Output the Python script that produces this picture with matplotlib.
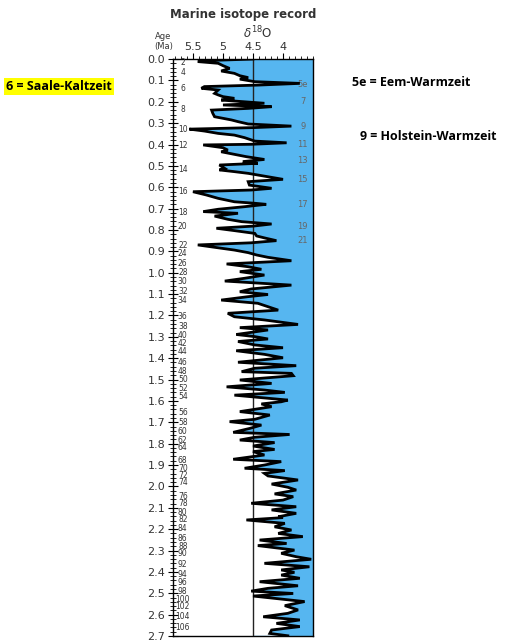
import matplotlib.pyplot as plt
import numpy as np
from matplotlib.ticker import MultipleLocator

# age (Ma) and delta18O values
age = [0.000, 0.006, 0.012, 0.020, 0.031, 0.044, 0.056, 0.067, 0.078, 0.087, 0.094, 0.106, 0.114, 0.122,
       0.129, 0.137, 0.145, 0.161, 0.168, 0.176, 0.184, 0.192, 0.207, 0.215, 0.223, 0.231, 0.239, 0.254,
       0.270, 0.285, 0.293, 0.304, 0.314, 0.321, 0.328, 0.337, 0.348, 0.356, 0.368, 0.384, 0.392, 0.399,
       0.402, 0.415, 0.426, 0.434, 0.446, 0.457, 0.470, 0.480, 0.488, 0.496, 0.512, 0.519,
       0.527, 0.535, 0.551, 0.563, 0.574, 0.590, 0.605, 0.613, 0.621, 0.636, 0.652, 0.668, 0.675, 0.680,
       0.691, 0.703, 0.714, 0.722, 0.735, 0.750, 0.761, 0.772, 0.782, 0.792, 0.803, 0.816, 0.828, 0.839,
       0.850, 0.860, 0.870, 0.881, 0.894, 0.906, 0.917, 0.928, 0.944, 0.959, 0.972, 0.984, 0.995, 1.011,
       1.026, 1.039, 1.058,
       1.076, 1.089, 1.102, 1.112, 1.128, 1.143, 1.159, 1.175, 1.190, 1.206, 1.221, 1.242, 1.257, 1.268,
       1.289, 1.299, 1.310, 1.322, 1.338, 1.351, 1.365, 1.382, 1.398, 1.419, 1.435, 1.447, 1.463, 1.471,
       1.482, 1.502, 1.518, 1.534, 1.549, 1.560, 1.573, 1.596,
       1.604, 1.614, 1.627, 1.650, 1.666, 1.686, 1.697, 1.713, 1.729, 1.747, 1.757, 1.770, 1.783, 1.795,
       1.811, 1.827, 1.837, 1.853, 1.873, 1.884, 1.900, 1.915, 1.926, 1.939, 1.951, 1.970, 1.989, 2.004,
       2.017, 2.035, 2.048, 2.064, 2.079, 2.095, 2.110, 2.126, 2.142,
       2.146, 2.157, 2.173, 2.189, 2.204, 2.220, 2.235, 2.251, 2.267, 2.277, 2.298, 2.313, 2.329, 2.341,
       2.360, 2.376, 2.391, 2.402, 2.415, 2.430, 2.446, 2.465, 2.477, 2.490, 2.501, 2.513, 2.527, 2.539,
       2.558, 2.578, 2.594, 2.610, 2.625, 2.641, 2.656, 2.672, 2.688, 2.699]
d18o = [4.50, 5.14, 5.42, 5.08, 5.00, 4.89, 5.03, 4.81, 4.72, 4.58, 4.72, 4.47, 3.72, 4.42,
        5.31, 5.36, 5.08, 5.14, 5.08, 5.00, 4.81, 5.03, 4.31, 5.00, 4.19, 4.58, 5.19, 5.17,
        5.14, 4.86, 4.75, 4.58, 3.86, 4.50, 5.56, 5.31, 5.08, 4.81, 4.64, 4.47, 3.94, 4.53,
        5.33, 5.00, 4.92, 5.03, 4.81, 4.61, 4.31, 4.67, 4.42, 5.06, 4.97, 5.06,
        4.81, 4.58, 4.25, 4.00, 4.58, 4.56, 4.19, 4.53, 5.50, 5.28, 5.08, 4.81, 4.47, 4.28,
        4.64, 5.08, 5.33, 4.75, 5.14, 4.92, 4.69, 4.19, 4.50, 5.11, 4.81, 4.47, 4.44, 4.28,
        4.11, 4.53, 5.42, 5.14, 4.81, 4.58, 4.44, 4.25, 3.86, 4.94, 4.58, 4.36, 4.72, 4.31,
        4.64, 4.97, 3.86,
        4.53, 4.72, 4.25, 4.58, 5.03, 4.42, 4.25, 4.08, 4.92, 4.81, 4.31, 3.75, 4.72, 4.25,
        4.78, 4.47, 4.25, 4.75, 4.47, 4.00, 4.78, 4.31, 4.00, 4.75, 3.78, 4.47, 4.69, 3.86,
        3.83, 4.72, 4.19, 4.94, 4.31, 3.97, 4.81, 3.92,
        4.03, 4.36, 4.19, 4.72, 4.22, 4.47, 4.89, 4.36, 4.56, 4.83, 3.89, 4.47, 4.72, 4.14,
        4.50, 4.14, 4.50, 4.31, 4.83, 4.03, 4.31, 4.64, 3.97, 4.31, 4.25, 3.75, 4.19, 3.92,
        3.78, 4.14, 3.83, 4.00, 4.53, 3.78, 4.19, 3.78, 4.08,
        4.00, 4.61, 3.97, 4.14, 3.86, 4.08, 3.67, 4.39, 3.94, 4.42, 3.81, 4.03, 3.78, 3.53,
        4.31, 3.56, 4.03, 3.81, 4.03, 3.72, 4.39, 3.75, 4.25, 4.53, 3.83, 4.50, 4.03, 3.64,
        3.97, 3.75, 3.92, 4.33, 3.72, 4.11, 3.72, 4.19, 4.22, 3.92]

# marine isotope stage labels
even_stages = ['2', '4', '6', '8', '10', '12', '14', '16', '18', '20', '22', '24', '26', '28', '30',
               '32', '34', '36', '38', '40', '42', '44', '46', '48', '50', '52', '54', '56', '58', '60',
               '62', '64', '68', '70', '72', '74', '76', '78', '80', '82', '84', '86', '88', '90', '92',
               '94', '96', '98', '100', '102', '104', '106']
even_ages = [0.014, 0.061, 0.136, 0.237, 0.332, 0.403, 0.515, 0.622, 0.716, 0.786, 0.871, 0.908,
             0.959, 0.997, 1.039, 1.090, 1.132, 1.207, 1.254, 1.296, 1.329, 1.371, 1.418, 1.460,
             1.502, 1.540, 1.577, 1.652, 1.703, 1.745, 1.783, 1.820, 1.881, 1.914, 1.951, 1.984,
             2.045, 2.082, 2.120, 2.157, 2.195, 2.242, 2.279, 2.312, 2.364, 2.410, 2.448, 2.490,
             2.527, 2.560, 2.611, 2.658]
odd_stages = ['5e', '7', '9', '11', '13', '15', '17', '19', '21']
odd_ages = [0.117, 0.201, 0.314, 0.398, 0.473, 0.562, 0.679, 0.782, 0.847]

ref_value = 4.5
blue = '#56B6F0'
text_gray = '#333333'

fig = plt.figure(figsize=(5.07, 6.43), dpi=100)
ax = fig.add_axes([0.3412, 0.0109, 0.2762, 0.8973])

age_a = np.array(age)
d_a = np.array(d18o)

# right side: blue from the line to the right edge, white between line and warm excursions
ax.fill_betweenx([0, 2.7], ref_value, 3.5, color=blue, lw=0)
ax.fill_betweenx(age_a, d_a, ref_value, where=d_a < ref_value, interpolate=True, color='white', lw=0)
# left side: glacial excursions in blue (upper part of the record)
ax.fill_betweenx(age_a, d_a, ref_value, where=(d_a > ref_value) & (age_a < 1.78), interpolate=True,
                 color=blue, lw=0)

ax.axvline(ref_value, color='#222222', lw=1.0, zorder=3)
ax.plot(d18o, age, color='black', lw=2.0, zorder=4, solid_joinstyle='miter')

ax.set_xlim(5.833, 3.5)
ax.set_ylim(2.7, 0.0)

ax.xaxis.tick_top()
ax.set_xticks([5.5, 5.0, 4.5, 4.0])
ax.set_xticklabels(['5.5', '5', '4.5', '4'])
ax.xaxis.set_minor_locator(MultipleLocator(0.1))
ax.yaxis.set_major_locator(MultipleLocator(0.1))
ax.yaxis.set_minor_locator(MultipleLocator(0.02))
ax.set_yticklabels([f'{v:.1f}' for v in ax.get_yticks()])
ax.tick_params(axis='x', which='major', direction='out', length=4, labelsize=8, labelcolor=text_gray, pad=1)
ax.tick_params(axis='x', which='minor', direction='out', length=2)
ax.tick_params(axis='y', which='major', direction='inout', length=7, labelsize=8, labelcolor=text_gray, pad=2)
ax.tick_params(axis='y', which='minor', direction='inout', length=4)
for s in ax.spines.values():
    s.set_linewidth(1.0)

for lbl, a in zip(even_stages, even_ages):
    ax.text(5.67, a, lbl, ha='center', va='center', fontsize=5.5, color=text_gray)
for lbl, a in zip(odd_stages, odd_ages):
    ax.text(3.67, a, lbl, ha='center', va='center', fontsize=6, color='#666666')

fig.text(0.479, 0.978, 'Marine isotope record', ha='center', va='center', fontsize=8.5,
         fontweight='bold', color=text_gray)
fig.text(0.509, 0.948, r'$\delta^{18}$O', ha='center', va='center', fontsize=8.5, color=text_gray)
fig.text(0.322, 0.935, 'Age\n(Ma)', ha='center', va='center', fontsize=6, color=text_gray, linespacing=1.1)

fig.text(0.012, 0.865, '6 = Saale-Kaltzeit', ha='left', va='center', fontsize=9, fontweight='bold',
         family='Open Sans', color='black',
         bbox=dict(facecolor='#FFFF00', edgecolor='none', pad=1.5))
fig.text(0.694, 0.872, '5e = Eem-Warmzeit', ha='left', va='center', fontsize=9, fontweight='bold',
         family='Open Sans', color='black')
fig.text(0.710, 0.788, '9 = Holstein-Warmzeit', ha='left', va='center', fontsize=9, fontweight='bold',
         family='Open Sans', color='black')

plt.savefig('out.png', dpi=100)
